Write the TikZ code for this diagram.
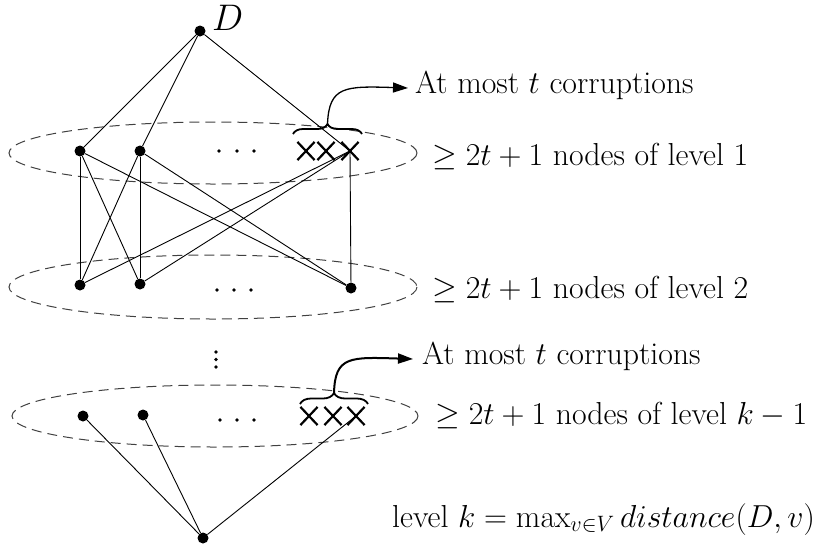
\RequirePackage{fix-cm}
\documentclass[tikz,border=0pt]{standalone}
\usetikzlibrary{arrows.meta,decorations.pathreplacing,shapes.misc}
\begin{document}
\begin{tikzpicture}[x=1pt,y=-1pt,
  dotnode/.style={circle,fill=black,inner sep=0pt,minimum size=11pt},
  smalldot/.style={circle,fill=black,inner sep=0pt,minimum size=3.8pt},
  xnode/.style={cross out,draw,line width=2.2pt,inner sep=0pt,minimum width=15pt,minimum height=16pt},
  edge/.style={line width=0.9pt},
  levelell/.style={draw=black!75,line width=1pt,dash pattern=on 10pt off 6pt},
  bracestyle/.style={decorate,decoration={brace,amplitude=10pt},line width=1.8pt},
  lbl/.style={anchor=base west,inner sep=0pt,font=\fontsize{31.8}{38}\selectfont},
  callout/.style={-{Triangle[length=15pt,width=10pt]}}
]
\useasboundingbox (0,0) rectangle (821,552);
% ellipses
\draw[levelell] (213,153) ellipse [x radius=204, y radius=31];
\draw[levelell] (213,287) ellipse [x radius=204, y radius=32];
\draw[levelell] (215,416) ellipse [x radius=203, y radius=31];
% top node
\node[dotnode] (D) at (200,31) {};
\node[anchor=base west,inner sep=0pt,font=\fontsize{37}{42}\selectfont] (Dl) at (212,30.5) {$D$};
% level 1
\node[dotnode] (a1) at (80,151) {};
\node[dotnode] (a2) at (140,151) {};
\node[smalldot] (p1) at (219,151) {};
\node[smalldot] (p2) at (237,151) {};
\node[smalldot] (p3) at (254,151) {};
\node[xnode] (c1) at (306,151) {};
\node[xnode] (c2) at (326,151) {};
\node[xnode] (c3) at (350,151) {};
% level 2
\node[dotnode] (b1) at (80,285) {};
\node[dotnode] (b2) at (140,284) {};
\node[smalldot] (q1) at (217,290) {};
\node[smalldot] (q2) at (234,290) {};
\node[smalldot] (q3) at (251,290) {};
\node[dotnode] (b3) at (351,288) {};
% vertical dots
\node[smalldot] (v1) at (216,352) {};
\node[smalldot] (v2) at (216,359.5) {};
\node[smalldot] (v3) at (216,367) {};
% level k-1
\node[dotnode] (k1) at (83,416) {};
\node[dotnode] (k2) at (143,415) {};
\node[smalldot] (r1) at (220,420) {};
\node[smalldot] (r2) at (237,420) {};
\node[smalldot] (r3) at (254,420) {};
\node[xnode] (d1) at (309,416) {};
\node[xnode] (d2) at (333,416) {};
\node[xnode] (d3) at (356,416) {};
% bottom
\node[dotnode] (e) at (203,538) {};
% edges
\draw[edge] (D) -- (a1);
\draw[edge] (D) -- (a2);
\draw[edge] (D) -- (c3.center);
\draw[edge] (a1) -- (b1);
\draw[edge] (a1) -- (b2);
\draw[edge] (a1) -- (b3);
\draw[edge] (a2) -- (b1);
\draw[edge] (a2) -- (b2);
\draw[edge] (a2) -- (b3);
\draw[edge] (c3.center) -- (b1);
\draw[edge] (c3.center) -- (b2);
\draw[edge] (c3.center) -- (b3);
\draw[edge] (e) -- (k1);
\draw[edge] (e) -- (k2);
\draw[edge] (e) -- (d3.center);
% braces
\draw[bracestyle] (293,134) -- (362,134);
\coordinate (bt1) at (327.5,124);
\draw[bracestyle,decoration={amplitude=11pt}] (300,404) -- (368,404);
\coordinate (bt2) at (334,393);
\coordinate (at1) at (408,88);
\coordinate (at2) at (413,359);
% labels
\node[lbl] (t1) at (415,93) {At most $t$ corruptions};
\node[lbl] (t2) at (432,165) {$\geq 2t+1$ nodes of level 1};
\node[lbl] (t3) at (432,298) {$\geq 2t+1$ nodes of level 2};
\node[lbl] (t4) at (422,364) {At most $t$ corruptions};
\node[lbl] (t5) at (435,424) {$\geq 2t+1$ nodes of level $k-1$};
\node[lbl] (t6) at (392,527) {level $k=\max_{v\in V} distance(D,v)$};
% callout arrows
\draw[callout,line width=1.3pt] (bt1) .. controls (329,86) and (345,86) .. (at1);
\draw[callout,line width=2pt] (bt2) .. controls (335,356) and (350,357) .. (at2);
\end{tikzpicture}
\end{document}
